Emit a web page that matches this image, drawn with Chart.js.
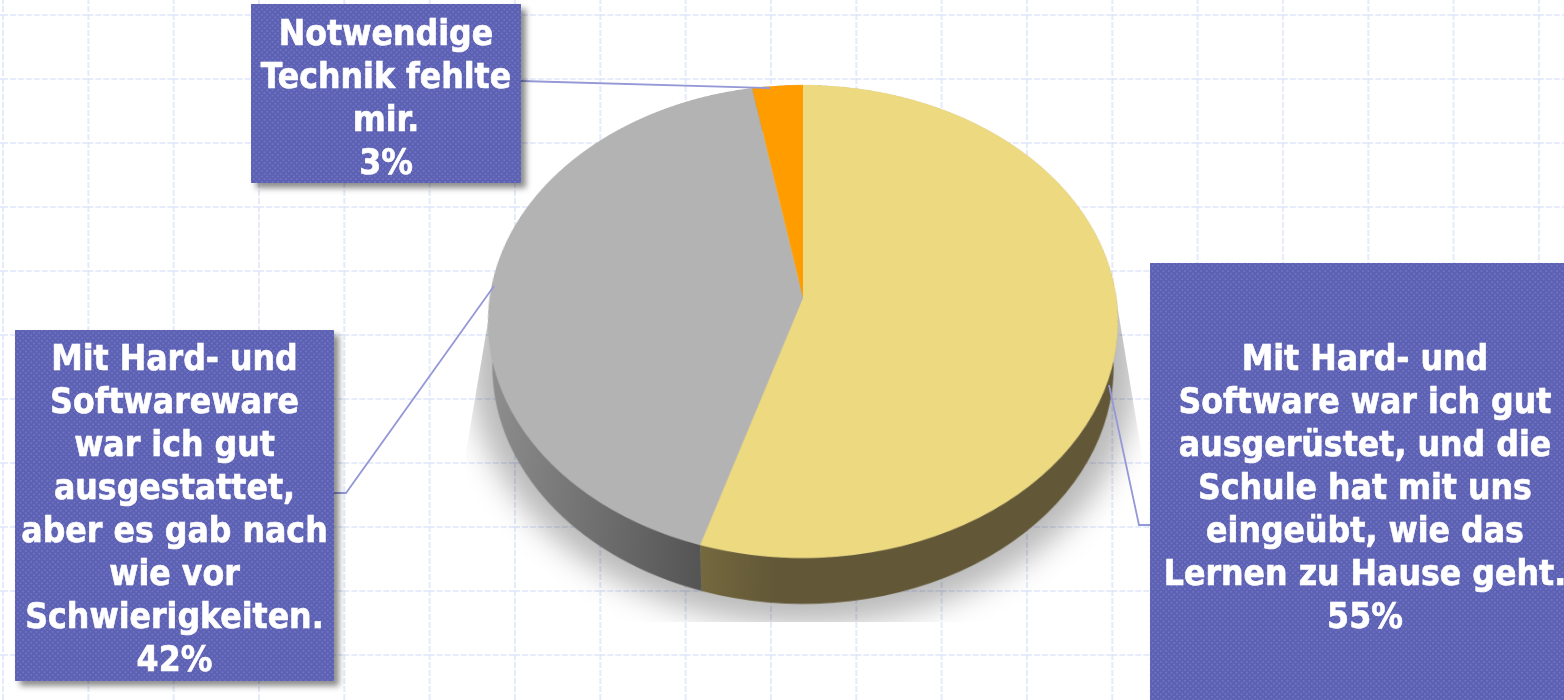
<!DOCTYPE html>
<html>
<head>
<meta charset="utf-8">
<title>Pie</title>
<script src="https://cdn.jsdelivr.net/npm/chart.js@4/dist/chart.umd.js"></script>
<style>
  html, body { margin: 0; width: 1564px; height: 700px; overflow: hidden; background: #fff; }
  #grid, #lines { position: absolute; left: 0; top: 0; }
  #shadowClip {
    position: absolute; left: 0; top: 0; width: 1564px; height: 700px;
    clip-path: polygon(495px 280px, 466px 452px, 466px 622px, 1142px 622px, 1142px 455px, 1113px 280px);
  }
  #shadow {
    position: absolute; left: 470px; top: 105px; width: 668px; height: 520px;
    border-radius: 50%; background: rgba(0,0,0,.27); filter: blur(15px);
  }
  #pie { position: absolute; left: 353px; top: -152px; transform: perspective(2095px) rotateX(41.65deg); }
  .box {
    position: absolute; box-sizing: border-box; color: #fff; text-align: center;
    font: bold 35.2px/43px "DejaVu Sans", sans-serif; font-stretch: condensed; white-space: nowrap;
    -webkit-text-stroke: .6px #fff;
    background-color: #5d61b3;
    background-image: radial-gradient(circle, #6f73c1 1px, transparent 1.3px), radial-gradient(circle, #6f73c1 1px, transparent 1.3px);
    background-size: 5.4px 5.4px; background-position: 0 0, 2.7px 2.7px;
    box-shadow: 5px 5px 6px rgba(0,0,0,.45);
  }
</style>
</head>
<body>
<svg id="grid" width="1564" height="700">
  <defs>
    <pattern id="cell" x="2" y="14" width="85.33" height="64" patternUnits="userSpaceOnUse">
      <path d="M1 0V64M0 1H85.33" stroke="#dfe6fb" stroke-width="1.6" stroke-dasharray="6 2" fill="none"/>
    </pattern>
  </defs>
  <rect width="1564" height="700" fill="url(#cell)"/>
</svg>
<div id="shadowClip"><div id="shadow"></div></div>
<canvas id="pie" width="900" height="900"></canvas>
<svg id="lines" width="1564" height="700" fill="none" stroke="#9498d6" stroke-width="1.8">
  <polyline points="521,81 770,88"/>
  <polyline points="334,493 346,493 494,286"/>
  <polyline points="1150,525 1139,525 1109,385"/>
</svg>
<script>
const categories = [
  ["Mit Hard- und", "Software war ich gut", "ausgerüstet, und die", "Schule hat mit uns", "eingeübt, wie das", "Lernen zu Hause geht."],
  ["Mit Hard- und", "Softwareware", "war ich gut", "ausgestattet,", "aber es gab nach", "wie vor", "Schwierigkeiten."],
  ["Notwendige", "Technik fehlte", "mir."],
];
const values = [54.8, 42.35, 2.85];
const topColors = ["#edd97f", "#b3b3b3", "#ff9c00"];
const wallStops = [
  ["#75693f", "#625737"],
  ["#929292", "#555555"],
  ["#805000", "#805000"],
];
// left, top, width, height, text top padding
const boxes = [
  [1150, 263, 430, 450, 73],
  [15, 330, 319, 351, 6],
  [251, 4, 270, 179, 7],
];

const wallDepth = 59;
const wallShrink = 10;

// the side of the disc: same arcs as the slices, lower edge further back so a bit smaller
const wallPlugin = {
  id: "wall",
  beforeDatasetsDraw(chart) {
    const ctx = chart.ctx;
    chart.getDatasetMeta(0).data.forEach((arc, i) => {
      const { x, y, startAngle, endAngle, outerRadius } = arc.getProps(["x", "y", "startAngle", "endAngle", "outerRadius"], true);
      const r = outerRadius;
      // gradient runs from the left end of the visible wall of this slice
      const from = i === 0 ? x + r * Math.cos(endAngle) : x - r;
      const to = i === 0 ? from + 70 : x + r * Math.cos(startAngle);
      const grad = ctx.createLinearGradient(from, 0, to, 0);
      grad.addColorStop(0, wallStops[i][0]);
      grad.addColorStop(1, wallStops[i][1]);
      ctx.beginPath();
      ctx.arc(x, y, r, startAngle, endAngle);
      ctx.arc(x, y + wallDepth, r - wallShrink, endAngle, startAngle, true);
      ctx.closePath();
      ctx.fillStyle = grad;
      ctx.fill();
    });
  },
};

new Chart(document.getElementById("pie"), {
  type: "pie",
  data: {
    labels: categories.map((c) => c.join(" ")),
    datasets: [{ data: values, backgroundColor: topColors, borderWidth: 0 }],
  },
  options: {
    responsive: false,
    devicePixelRatio: 2,
    animation: false,
    layout: { padding: 136.6 },
    plugins: { legend: { display: false }, tooltip: { enabled: false } },
  },
  plugins: [wallPlugin],
});

categories.forEach((lines, i) => {
  const b = boxes[i];
  const div = document.createElement("div");
  div.className = "box";
  div.style.cssText = `left:${b[0]}px;top:${b[1]}px;width:${b[2]}px;height:${b[3]}px;padding-top:${b[4]}px`;
  [...lines, Math.round(values[i]) + "%"].forEach((t, n) => {
    if (n) div.appendChild(document.createElement("br"));
    div.appendChild(document.createTextNode(t));
  });
  document.body.appendChild(div);
});
</script>
</body>
</html>
